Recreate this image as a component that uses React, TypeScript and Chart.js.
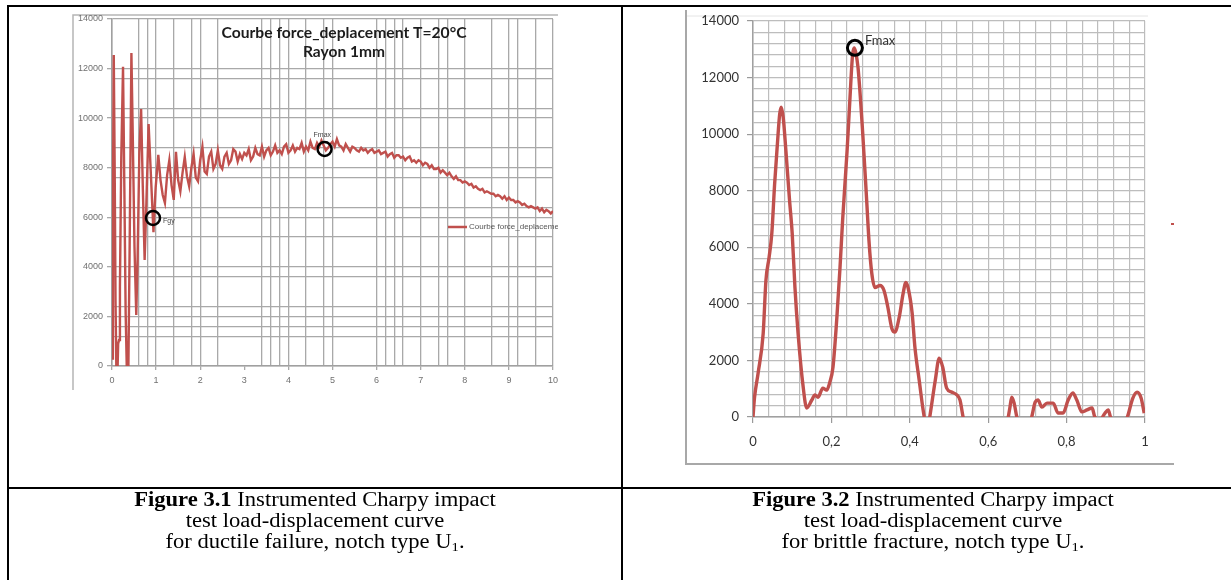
import React, { useEffect, useRef } from "react";
import { Chart, registerables } from "chart.js";

Chart.register(...registerables);

// ---------- Figure 3.1 : ductile failure (displacement in mm, force in N) ----------
const ductileDisp = [
  0, 0.02, 0.04, 0.06, 0.08, 0.1, 0.12, 0.14, 0.16, 0.18,
  0.21, 0.25, 0.28, 0.31, 0.34, 0.37, 0.4, 0.44, 0.47, 0.51,
  0.55, 0.58, 0.62, 0.66, 0.7, 0.74, 0.78, 0.83, 0.89, 0.94,
  0.99, 1.05, 1.1, 1.15, 1.2, 1.25, 1.3, 1.35, 1.4, 1.45,
  1.5, 1.55, 1.6, 1.65, 1.7, 1.75, 1.8, 1.85, 1.9, 1.95,
  2, 2.05, 2.1, 2.15, 2.2, 2.25, 2.3, 2.35, 2.4, 2.45,
  2.5, 2.55, 2.6, 2.65, 2.7, 2.75, 2.8, 2.85, 2.9, 2.95,
  3, 3.05, 3.1, 3.15, 3.2, 3.25, 3.3, 3.35, 3.4, 3.45,
  3.5, 3.55, 3.6, 3.65, 3.7, 3.75, 3.8, 3.85, 3.9, 3.95,
  4, 4.05, 4.1, 4.15, 4.2, 4.25, 4.3, 4.35, 4.4, 4.45,
  4.5, 4.55, 4.6, 4.65, 4.7, 4.75, 4.8, 4.85, 4.9, 4.95,
  5, 5.05, 5.1, 5.15, 5.2, 5.25, 5.3, 5.35, 5.4, 5.45,
  5.5, 5.55, 5.6, 5.65, 5.7, 5.75, 5.8, 5.85, 5.9, 5.95,
  6, 6.05, 6.1, 6.15, 6.2, 6.25, 6.3, 6.35, 6.4, 6.45,
  6.5, 6.55, 6.6, 6.65, 6.7, 6.75, 6.8, 6.85, 6.9, 6.95,
  7, 7.05, 7.1, 7.15, 7.2, 7.25, 7.3, 7.35, 7.4, 7.45,
  7.5, 7.55, 7.6, 7.65, 7.7, 7.75, 7.8, 7.85, 7.9, 7.95,
  8, 8.05, 8.1, 8.15, 8.2, 8.25, 8.3, 8.35, 8.4, 8.45,
  8.5, 8.55, 8.6, 8.65, 8.7, 8.75, 8.8, 8.85, 8.9, 8.95,
  9, 9.05, 9.1, 9.15, 9.2, 9.25, 9.3, 9.35, 9.4, 9.45,
  9.5, 9.55, 9.6, 9.65, 9.7, 9.75, 9.8, 9.85, 9.9, 9.95,
  10,
];
const ductileForce = [
  300, 6500, 12550, 8200, 2600, -300, -600, 900, 1050, 3200,
  8400, 12070, 7200, 2100, -500, -300, 4800, 12630, 9400, 4800,
  2060, 4300, 8600, 10370, 7100, 4280, 6600, 9765, 7400, 5400,
  7200, 8515, 7500, 6900, 6580, 7700, 8300, 7300, 6700, 8640,
  7500, 7050, 7800, 8430, 7650, 7250, 8000, 8550, 7600, 7450,
  8300, 8840, 7850, 7750, 8450, 8650, 7950, 8150, 8700, 8100,
  7950, 8450, 8600, 8150, 8300, 8750, 8650, 8250, 8550, 8350,
  8600, 8500, 8750, 8300, 8450, 8800, 8550, 8500, 8850, 8450,
  8700, 8800, 8500, 8650, 8900, 8600, 8700, 8550, 8850, 8950,
  8600, 8700, 8900, 8650, 8800, 8750, 9000, 8650, 8850, 8700,
  9050, 8800, 8750, 9000, 8850, 9100, 8900, 8700, 8800, 8950,
  9050, 8850, 9150, 8900, 8850, 8700, 8950, 8800, 8650, 8850,
  8800, 8700, 8650, 8800, 8700, 8750, 8600, 8700, 8750, 8600,
  8650, 8700, 8550, 8600, 8650, 8450, 8550, 8600, 8400, 8500,
  8500, 8400, 8450, 8300, 8400, 8450, 8250, 8300, 8200, 8300,
  8250, 8100, 8200, 8150, 8000, 8100, 7950, 7950, 8000, 7800,
  7900, 7800, 7700, 7800, 7650, 7550, 7650, 7500, 7500, 7400,
  7450, 7400, 7300, 7350, 7200, 7250, 7150, 7100, 7150, 7000,
  7050, 7000, 6950, 6950, 6850, 6900, 6850, 6750, 6850, 6700,
  6800, 6700, 6700, 6600, 6650, 6600, 6500, 6550, 6450, 6400,
  6450, 6400, 6350, 6400, 6250, 6350, 6200, 6300, 6250, 6150,
  6250,
];
const ductileMarkDisp = [0.93, 4.82];
const ductileMarkForce = [5970, 8755];
const ductileMarkLabels = ["Fgy", "Fmax"];
const ductileXTicks = [0, 0.6, 0.8, 1, 1.4, 1.8, 2, 2.4, 3, 3.4, 3.6, 3.8, 4, 4.4, 4.8, 5, 6, 6.2, 6.4, 6.6, 7, 7.4, 7.6, 8, 8.6, 9, 9.2, 9.6, 10];
const ductileXGrid = [0, 0.6, 0.8, 1, 1.4, 1.8, 2, 2.4, 3.4, 3.6, 3.8, 4, 4.4, 4.8, 5, 6, 6.2, 6.4, 6.6, 7, 7.4, 7.6, 8, 8.6, 9, 9.2, 9.6, 10];
const ductileYTicks = [0, 1200, 1600, 2000, 2400, 3600, 4000, 5200, 6000, 6400, 7600, 8000, 8800, 10000, 10400, 11600, 12000, 14000];
const ductileTitle = ["Courbe force_deplacement T=20°C", "Rayon 1mm"];
const ductileLegend = "Courbe force_deplacement";

// ---------- Figure 3.2 : brittle fracture ----------
const brittleDisp = [
  0, 0.004, 0.013, 0.026, 0.033, 0.041, 0.048, 0.055, 0.062, 0.068,
  0.072, 0.077, 0.084, 0.093, 0.1, 0.107, 0.115, 0.128, 0.137, 0.15,
  0.158, 0.166, 0.178, 0.188, 0.196, 0.204, 0.214, 0.222, 0.229, 0.24,
  0.247, 0.254, 0.258, 0.262, 0.268, 0.28, 0.29, 0.296, 0.303, 0.311,
  0.324, 0.334, 0.344, 0.354, 0.362, 0.373, 0.383, 0.39, 0.396, 0.406,
  0.413, 0.424, 0.434, 0.445, 0.452, 0.465, 0.475, 0.484, 0.494, 0.507,
  0.52, 0.528, 0.536, 0.55, 0.6, 0.645, 0.655, 0.66, 0.666, 0.673,
  0.685, 0.7, 0.711, 0.72, 0.727, 0.737, 0.75, 0.766, 0.778, 0.791,
  0.804, 0.816, 0.826, 0.839, 0.852, 0.865, 0.872, 0.885, 0.898, 0.906,
  0.912, 0.93, 0.955, 0.969, 0.98, 0.99, 0.998,
];
const brittleForce = [
  0, 700, 1550, 2960, 4830, 5640, 6490, 8200, 9600, 10700,
  10950, 10600, 9400, 7700, 6490, 4580, 2960, 1060, 320, 600,
  780, 700, 1020, 950, 1230, 1760, 3530, 5290, 7050, 9410,
  11180, 12800, 13050, 12900, 12340, 10010, 7650, 6200, 5080, 4580,
  4650, 4480, 3880, 3140, 3000, 3530, 4370, 4760, 4550, 3670,
  2470, 1300, 250, -500, 100, 1300, 2080, 1760, 1020, 880,
  780, 600, 0, -700, -900, -400, 300, 700, 500, 0,
  -600, -500, 0, 530, 600, 350, 490, 490, 140, 140,
  600, 850, 600, 180, 250, 320, 0, -100, 140, 250,
  0, -700, 0, 670, 880, 670, 140,
];
const brittleMarkDisp = [0.26];
const brittleMarkForce = [13050];
const brittleMarkLabels = ["Fmax"];
const brittleYLabelStep = 2000;
const brittleXLabelStep = 0.2;

const RED = "#c0504d";

const toPoints = (xs: number[], ys: number[]) => xs.map((x, i) => ({ x, y: ys[i] }));

const ductileDecor = {
  id: "ductileDecor",
  beforeDraw(chart: any) {
    const { ctx } = chart;
    ctx.save();
    ctx.strokeStyle = "#b5b5b5";
    ctx.lineWidth = 1.5;
    ctx.beginPath();
    ctx.moveTo(13, 390);
    ctx.lineTo(13, 15);
    ctx.lineTo(498, 15);
    ctx.stroke();
    ctx.restore();
  },
  afterDraw(chart: any) {
    const { ctx, chartArea: a, scales } = chart;
    ctx.save();
    ctx.fillStyle = "#1c1c1c";
    ctx.font = "bold 16px Lato";
    ctx.textAlign = "center";
    ctx.textBaseline = "middle";
    ctx.fillText(ductileTitle[0], a.left + 232, a.top + 14, 245);
    ctx.fillText(ductileTitle[1], a.left + 232, a.top + 33, 82);
    // legend
    ctx.strokeStyle = RED;
    ctx.lineWidth = 2.5;
    ctx.beginPath();
    ctx.moveTo(a.left + 336, a.top + 208);
    ctx.lineTo(a.left + 355, a.top + 208);
    ctx.stroke();
    ctx.save();
    ctx.beginPath();
    ctx.rect(a.left + 355, a.top + 195, a.right + 5 - (a.left + 355), 26);
    ctx.clip();
    ctx.fillStyle = "#555";
    ctx.font = "8px 'Liberation Sans'";
    ctx.textAlign = "left";
    ctx.fillText(ductileLegend, a.left + 357, a.top + 208);
    ctx.restore();
    // marker labels
    ctx.fillStyle = "#444";
    ctx.font = "7px 'Liberation Sans'";
    ctx.textAlign = "left";
    const offs = [[10, 3], [-11, -14]];
    ductileMarkLabels.forEach((t, i) => {
      const px = scales.x.getPixelForValue(ductileMarkDisp[i]);
      const py = scales.y.getPixelForValue(ductileMarkForce[i]);
      ctx.fillText(t, px + offs[i][0], py + offs[i][1]);
    });
    ctx.restore();
  },
};

const brittleDecor = {
  id: "brittleDecor",
  beforeDraw(chart: any) {
    const { ctx } = chart;
    ctx.save();
    ctx.strokeStyle = "#e4e4e4";
    ctx.lineWidth = 1;
    ctx.beginPath();
    ctx.moveTo(6, 16);
    ctx.lineTo(468, 16);
    ctx.stroke();
    ctx.strokeStyle = "#a8a8a8";
    ctx.lineWidth = 2;
    ctx.beginPath();
    ctx.moveTo(6, 10);
    ctx.lineTo(6, 464);
    ctx.lineTo(494, 464);
    ctx.stroke();
    ctx.fillStyle = RED;
    ctx.fillRect(491, 223, 3, 2);
    ctx.restore();
  },
  afterDraw(chart: any) {
    const { ctx, scales } = chart;
    ctx.save();
    ctx.fillStyle = "#333";
    ctx.font = "13px Lato";
    ctx.textAlign = "left";
    ctx.textBaseline = "middle";
    brittleMarkLabels.forEach((t, i) => {
      const px = scales.x.getPixelForValue(brittleMarkDisp[i]);
      const py = scales.y.getPixelForValue(brittleMarkForce[i]);
      ctx.fillText(t, px + 10, py - 7);
    });
    ctx.restore();
  },
};

const isMultiple = (v: number, step: number) => Math.abs(v / step - Math.round(v / step)) < 1e-6;

export default function App() {
  const c1 = useRef<HTMLCanvasElement>(null);
  const c2 = useRef<HTMLCanvasElement>(null);

  useEffect(() => {
    const ch1 = new Chart(c1.current as HTMLCanvasElement, {
      type: "scatter",
      data: {
        datasets: [
          {
            data: toPoints(ductileMarkDisp, ductileMarkForce),
            showLine: false,
            pointRadius: 7,
            pointBorderWidth: 2.5,
            pointBorderColor: "#000",
            pointBackgroundColor: "rgba(0,0,0,0)",
          },
          {
            data: toPoints(ductileDisp, ductileForce),
            showLine: true,
            borderColor: RED,
            borderWidth: 2.4,
            pointRadius: 0,
            tension: 0,
          },
        ],
      },
      options: {
        animation: false,
        responsive: false,
        devicePixelRatio: 1,
        layout: { padding: { left: 0, top: 19, right: 27, bottom: 4 } },
        plugins: { legend: { display: false }, tooltip: { enabled: false } },
        scales: {
          x: {
            type: "linear",
            min: 0,
            max: 10,
            afterBuildTicks: (s: any) => {
              s.ticks = ductileXTicks.map((v) => ({ value: v }));
            },
            afterFit: (s: any) => {
              s.height = 30;
            },
            ticks: {
              autoSkip: false,
              maxRotation: 0,
              padding: 5,
              color: "#707070",
              font: { size: 9, family: "'Liberation Sans'" },
              callback: (v: any) => (Number.isInteger(v) ? String(v) : ""),
            },
            grid: {
              color: (c: any) => (ductileXGrid.includes(c.tick?.value) ? "#a9a9a9" : "rgba(0,0,0,0)"),
              lineWidth: 1.3,
              tickLength: 4,
              tickColor: (c: any) => (Number.isInteger(c.tick?.value) ? "#a9a9a9" : "rgba(0,0,0,0)"),
            },
            border: { color: "#a0a0a0", width: 1.5 },
          },
          y: {
            type: "linear",
            min: 0,
            max: 14000,
            afterBuildTicks: (s: any) => {
              s.ticks = ductileYTicks.map((v) => ({ value: v }));
            },
            afterFit: (s: any) => {
              s.width = 52;
            },
            ticks: {
              autoSkip: false,
              padding: 4,
              color: "#707070",
              font: { size: 9, family: "'Liberation Sans'" },
              callback: (v: any) => (isMultiple(v, 2000) ? String(v) : ""),
            },
            grid: {
              color: "#a9a9a9",
              lineWidth: 1.3,
              tickLength: 5,
              tickColor: (c: any) => (isMultiple(c.tick?.value ?? 1, 2000) ? "#a9a9a9" : "rgba(0,0,0,0)"),
            },
            border: { color: "#a0a0a0", width: 1.5 },
          },
        },
      },
      plugins: [ductileDecor],
    } as any);

    const ch2 = new Chart(c2.current as HTMLCanvasElement, {
      type: "scatter",
      data: {
        datasets: [
          {
            data: toPoints(brittleMarkDisp, brittleMarkForce),
            showLine: false,
            pointRadius: 7.5,
            pointBorderWidth: 3,
            pointBorderColor: "#000",
            pointBackgroundColor: "rgba(0,0,0,0)",
          },
          {
            data: toPoints(brittleDisp, brittleForce),
            showLine: true,
            borderColor: RED,
            borderWidth: 3.4,
            pointRadius: 0,
            cubicInterpolationMode: "monotone",
          },
        ],
      },
      options: {
        animation: false,
        responsive: false,
        devicePixelRatio: 1,
        layout: { padding: { left: 0, top: 21, right: 55, bottom: 23 } },
        plugins: { legend: { display: false }, tooltip: { enabled: false } },
        scales: {
          x: {
            type: "linear",
            min: 0,
            max: 1,
            afterBuildTicks: (s: any) => {
              const t = [];
              for (let i = 0; i <= 25; i++) t.push({ value: Math.round(i * 4) / 100 });
              s.ticks = t;
            },
            afterFit: (s: any) => {
              s.height = 40;
            },
            ticks: {
              autoSkip: false,
              maxRotation: 0,
              padding: 11,
              color: "#333",
              font: { size: 13, family: "Lato" },
              callback: (v: any) =>
                isMultiple(v, brittleXLabelStep) ? String(Math.round(v * 10) / 10).replace(".", ",") : "",
            },
            grid: {
              color: "#bdbdbd",
              lineWidth: 1.2,
              tickLength: 6,
              tickColor: (c: any) => (isMultiple(c.tick?.value ?? 0.01, brittleXLabelStep) ? "#9a9a9a" : "rgba(0,0,0,0)"),
            },
            border: { color: "#a0a0a0", width: 1.5 },
          },
          y: {
            type: "linear",
            min: 0,
            max: 14000,
            afterBuildTicks: (s: any) => {
              const t = [];
              for (let v = 0; v <= 14000; v += 400) t.push({ value: v });
              s.ticks = t;
            },
            afterFit: (s: any) => {
              s.width = 73;
            },
            ticks: {
              autoSkip: false,
              padding: 8,
              color: "#333",
              font: { size: 13, family: "Lato" },
              callback: (v: any) => (isMultiple(v, brittleYLabelStep) ? String(v) : ""),
            },
            grid: {
              color: "#bdbdbd",
              lineWidth: 1.2,
              tickLength: 6,
              tickColor: (c: any) => (isMultiple(c.tick?.value ?? 1, brittleYLabelStep) ? "#9a9a9a" : "rgba(0,0,0,0)"),
            },
            border: { color: "#a0a0a0", width: 1.5 },
          },
        },
      },
      plugins: [brittleDecor],
    } as any);

    return () => {
      ch1.destroy();
      ch2.destroy();
    };
  }, []);

  const line = (s: React.CSSProperties) => <div style={{ position: "absolute", background: "#000", ...s }} />;
  const capStyle: React.CSSProperties = {
    position: "absolute",
    top: 489,
    textAlign: "center",
    fontFamily: "'Liberation Serif', 'Times New Roman', serif",
    fontSize: 20,
    lineHeight: "21px",
    color: "#000",
    transform: "scaleX(1.13)",
    transformOrigin: "center top",
    whiteSpace: "nowrap",
  };
  const sub: React.CSSProperties = { fontSize: 13, verticalAlign: "-3px", lineHeight: 0 };

  return (
    <div
      style={{
        position: "fixed",
        left: 0,
        top: 0,
        width: 1231,
        height: 580,
        overflow: "hidden",
        background: "#fff",
      }}
    >
      <canvas ref={c1} width={520} height={400} style={{ position: "absolute", left: 60, top: 0 }} />
      <canvas ref={c2} width={520} height={480} style={{ position: "absolute", left: 680, top: 0 }} />
      {line({ left: 7, top: 5, width: 1240, height: 2 })}
      {line({ left: 7, top: 5, width: 2, height: 600 })}
      {line({ left: 621, top: 5, width: 2, height: 600 })}
      {line({ left: 7, top: 487, width: 1240, height: 2 })}
      <div style={{ ...capStyle, left: 9, width: 612 }}>
        <div>
          <b>Figure 3.1</b> Instrumented Charpy impact
        </div>
        <div>test load-displacement curve</div>
        <div>
          for ductile failure, notch type U<span style={sub}>1</span>.
        </div>
      </div>
      <div style={{ ...capStyle, left: 623, width: 620 }}>
        <div>
          <b>Figure 3.2</b> Instrumented Charpy impact
        </div>
        <div>test load-displacement curve</div>
        <div>
          for brittle fracture, notch type U<span style={sub}>1</span>.
        </div>
      </div>
    </div>
  );
}
